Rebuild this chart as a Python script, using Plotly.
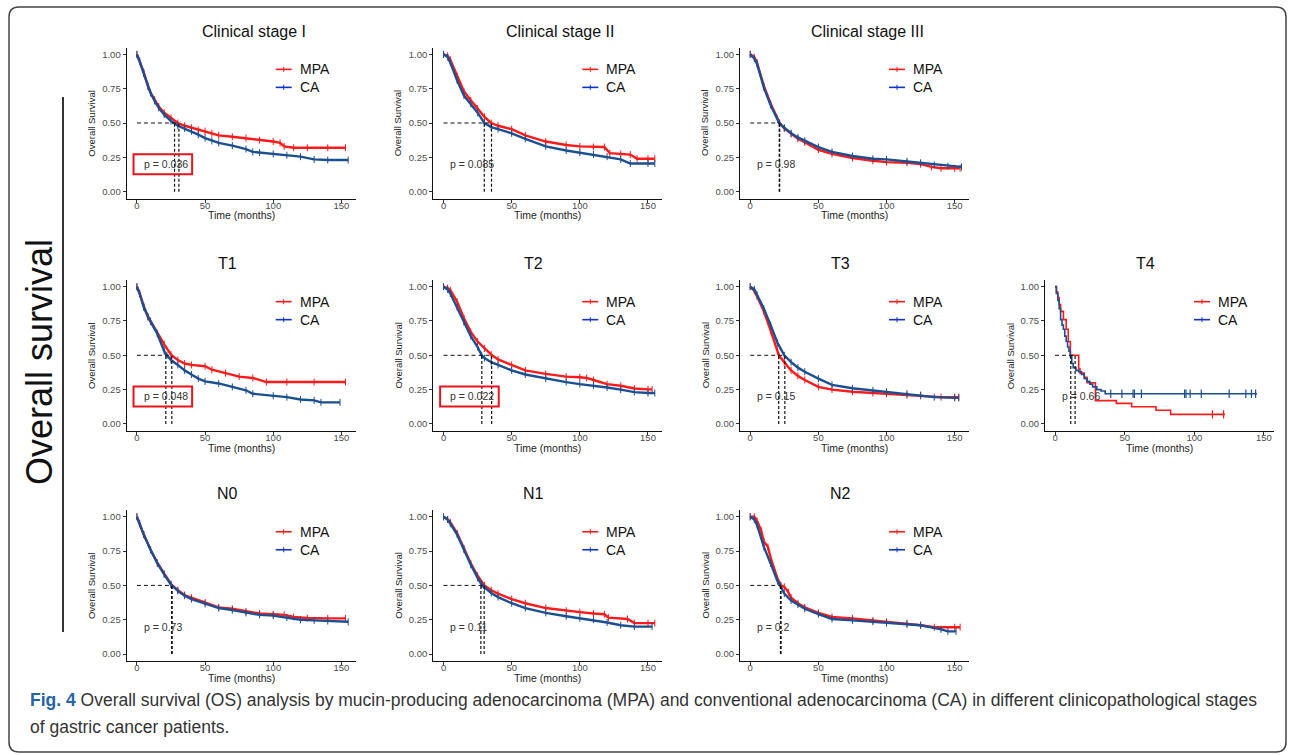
import plotly.graph_objects as go

W, H = 1290, 755

# ---------------- data ----------------
titles = ["Clinical stage I", "Clinical stage II", "Clinical stage III",
          "T1", "T2", "T3", "T4", "N0", "N1", "N2"]
p_values = ["0.036", "0.085", "0.98", "0.048", "0.022", "0.15", "0.66", "0.73", "0.11", "0.2"]
p_highlight = [True, False, False, True, True, False, False, False, False, False]
median_mpa = [30.8, 35.2, 21.6, 25.6, 35.3, 20.9, 14.4, 25.8, 29.8, 22.6]
median_ca = [27.6, 29.9, 21.3, 21.2, 28.1, 25.4, 11.3, 25.5, 27.4, 22.2]
x_ticks = [0, 50, 100, 150]
y_ticks = [0, 0.25, 0.5, 0.75, 1.0]
y_tick_labels = ["0.00", "0.25", "0.50", "0.75", "1.00"]
series_names = ["MPA", "CA"]

cs1_mpa_t = [0, 2, 5, 8, 10, 13, 16, 20, 25, 30, 35, 40, 45, 50, 55, 60, 70, 80, 90, 100, 105, 108, 115, 125, 140, 153]
cs1_mpa_s = [1.0, 0.95, 0.87, 0.77, 0.72, 0.67, 0.62, 0.575, 0.535, 0.50, 0.48, 0.465, 0.45, 0.44, 0.425, 0.41, 0.40, 0.39, 0.375, 0.365, 0.355, 0.33, 0.32, 0.32, 0.32, 0.32]
cs1_ca_t = [0, 2, 5, 8, 10, 13, 16, 20, 25, 30, 35, 40, 45, 50, 55, 60, 70, 80, 85, 90, 100, 110, 120, 130, 140, 155]
cs1_ca_s = [1.0, 0.95, 0.86, 0.77, 0.72, 0.66, 0.61, 0.56, 0.515, 0.48, 0.46, 0.44, 0.415, 0.39, 0.37, 0.355, 0.335, 0.31, 0.29, 0.285, 0.275, 0.265, 0.255, 0.235, 0.23, 0.23]

cs2_mpa_t = [0, 3, 5, 10, 15, 20, 25, 30, 35, 40, 50, 60, 75, 90, 100, 110, 118, 122, 130, 137, 142, 150, 155]
cs2_mpa_s = [1.0, 0.99, 0.96, 0.84, 0.73, 0.665, 0.605, 0.545, 0.50, 0.48, 0.455, 0.41, 0.365, 0.34, 0.33, 0.325, 0.325, 0.28, 0.275, 0.27, 0.24, 0.24, 0.24]
cs2_ca_t = [0, 3, 5, 10, 15, 20, 25, 30, 35, 40, 50, 60, 75, 90, 100, 110, 120, 130, 137, 150, 155]
cs2_ca_s = [1.0, 0.98, 0.94, 0.81, 0.70, 0.64, 0.575, 0.50, 0.47, 0.455, 0.425, 0.385, 0.33, 0.30, 0.285, 0.27, 0.255, 0.235, 0.205, 0.205, 0.205]

cs3_mpa_t = [0, 3, 5, 10, 15, 20, 21.6, 25, 30, 35, 40, 50, 60, 75, 90, 100, 115, 125, 133, 140, 150, 154]
cs3_mpa_s = [1.0, 0.98, 0.94, 0.77, 0.64, 0.53, 0.50, 0.46, 0.42, 0.385, 0.36, 0.305, 0.275, 0.245, 0.225, 0.215, 0.21, 0.20, 0.18, 0.17, 0.17, 0.17]
cs3_ca_t = [0, 3, 5, 10, 15, 20, 21.3, 25, 30, 35, 40, 50, 60, 75, 90, 100, 115, 125, 135, 145, 155]
cs3_ca_s = [1.0, 0.97, 0.93, 0.76, 0.63, 0.525, 0.50, 0.465, 0.425, 0.395, 0.37, 0.325, 0.29, 0.26, 0.24, 0.235, 0.22, 0.21, 0.195, 0.185, 0.18]

t1_mpa_t = [0, 2, 5, 8, 10, 15, 20, 25, 30, 35, 40, 50, 55, 65, 75, 85, 95, 110, 130, 153]
t1_mpa_s = [1.0, 0.95, 0.86, 0.78, 0.75, 0.66, 0.58, 0.505, 0.465, 0.44, 0.43, 0.42, 0.395, 0.37, 0.345, 0.335, 0.305, 0.305, 0.305, 0.305]
t1_ca_t = [0, 2, 5, 8, 10, 15, 20, 22, 25, 30, 35, 40, 45, 50, 60, 70, 80, 85, 100, 110, 120, 130, 135, 149]
t1_ca_s = [1.0, 0.95, 0.85, 0.78, 0.745, 0.655, 0.53, 0.50, 0.465, 0.43, 0.39, 0.36, 0.33, 0.31, 0.295, 0.27, 0.245, 0.22, 0.205, 0.195, 0.178, 0.172, 0.157, 0.157]

t2_mpa_t = [0, 3, 5, 10, 15, 20, 25, 30, 35, 40, 50, 60, 75, 90, 100, 105, 110, 120, 130, 140, 150, 153]
t2_mpa_s = [1.0, 0.99, 0.975, 0.89, 0.77, 0.67, 0.60, 0.55, 0.505, 0.47, 0.43, 0.39, 0.365, 0.345, 0.34, 0.335, 0.32, 0.29, 0.278, 0.258, 0.252, 0.252]
t2_ca_t = [0, 3, 5, 10, 15, 20, 25, 28, 30, 35, 40, 50, 60, 75, 90, 100, 110, 120, 130, 140, 150, 155]
t2_ca_s = [1.0, 0.98, 0.95, 0.85, 0.74, 0.64, 0.56, 0.50, 0.48, 0.45, 0.43, 0.39, 0.36, 0.33, 0.305, 0.29, 0.28, 0.265, 0.25, 0.232, 0.225, 0.225]

t3_mpa_t = [0, 3, 5, 10, 15, 20, 21, 25, 30, 35, 40, 50, 60, 75, 90, 100, 115, 125, 140, 150, 153]
t3_mpa_s = [1.0, 0.97, 0.93, 0.82, 0.68, 0.53, 0.50, 0.45, 0.39, 0.35, 0.32, 0.27, 0.25, 0.235, 0.225, 0.22, 0.21, 0.205, 0.195, 0.195, 0.195]
t3_ca_t = [0, 3, 5, 10, 15, 20, 25, 30, 35, 40, 50, 60, 75, 90, 100, 115, 125, 135, 150, 153]
t3_ca_s = [1.0, 0.98, 0.94, 0.84, 0.72, 0.59, 0.50, 0.45, 0.41, 0.38, 0.33, 0.285, 0.26, 0.245, 0.235, 0.22, 0.21, 0.195, 0.19, 0.19]

t4_mpa_t = [0, 1, 2, 3, 4, 6, 8, 9.5, 11, 17, 18, 21, 23, 29, 44, 55, 72.5, 83, 122]
t4_mpa_s = [1.0, 0.96, 0.92, 0.87, 0.82, 0.76, 0.69, 0.60, 0.50, 0.40, 0.37, 0.34, 0.30, 0.17, 0.15, 0.125, 0.10, 0.07, 0.07]
t4_ca_t = [0, 1, 2, 3, 4, 5, 6, 7, 8, 9, 10, 11, 12, 13, 15, 17, 19, 21, 23, 25, 27, 30, 33, 36, 145]
t4_ca_s = [1.0, 0.95, 0.90, 0.84, 0.76, 0.72, 0.69, 0.64, 0.60, 0.56, 0.53, 0.49, 0.44, 0.41, 0.39, 0.38, 0.36, 0.33, 0.31, 0.29, 0.27, 0.25, 0.24, 0.22, 0.22]
t4_mpa_censor_t = [113, 121]
t4_mpa_censor_s = [0.07, 0.07]
t4_ca_censor_t = [40, 48, 56, 57, 62, 93, 94, 97, 105, 125, 137, 141, 144]
t4_ca_censor_s = [0.22, 0.22, 0.22, 0.22, 0.22, 0.22, 0.22, 0.22, 0.22, 0.22, 0.22, 0.22, 0.22]

n0_mpa_t = [0, 2, 5, 10, 15, 20, 25, 30, 35, 40, 50, 60, 70, 80, 90, 100, 108, 115, 125, 140, 153]
n0_mpa_s = [1.0, 0.95, 0.87, 0.76, 0.665, 0.585, 0.51, 0.465, 0.43, 0.41, 0.375, 0.34, 0.33, 0.31, 0.295, 0.29, 0.285, 0.27, 0.262, 0.26, 0.26]
n0_ca_t = [0, 2, 5, 10, 15, 20, 25, 30, 35, 40, 50, 60, 70, 80, 90, 100, 110, 120, 130, 140, 155]
n0_ca_s = [1.0, 0.95, 0.87, 0.76, 0.66, 0.58, 0.505, 0.46, 0.425, 0.40, 0.365, 0.335, 0.32, 0.30, 0.285, 0.28, 0.265, 0.25, 0.245, 0.24, 0.235]

n1_mpa_t = [0, 3, 5, 10, 15, 20, 25, 30, 35, 40, 50, 60, 75, 90, 100, 110, 118, 121, 135, 140, 150, 155]
n1_mpa_s = [1.0, 0.98, 0.96, 0.88, 0.77, 0.66, 0.57, 0.50, 0.465, 0.44, 0.40, 0.37, 0.335, 0.315, 0.305, 0.295, 0.29, 0.265, 0.255, 0.225, 0.225, 0.225]
n1_ca_t = [0, 3, 5, 10, 15, 20, 25, 28, 30, 35, 40, 50, 60, 75, 90, 100, 110, 120, 130, 140, 153]
n1_ca_s = [1.0, 0.98, 0.95, 0.87, 0.76, 0.65, 0.555, 0.505, 0.485, 0.445, 0.415, 0.37, 0.335, 0.30, 0.275, 0.26, 0.25, 0.23, 0.21, 0.20, 0.20]

n2_mpa_t = [0, 3, 5, 8, 10, 13, 15, 20, 22.5, 25, 28, 30, 35, 40, 50, 60, 75, 90, 100, 115, 125, 135, 150, 154]
n2_mpa_s = [1.0, 1.0, 0.97, 0.90, 0.82, 0.78, 0.70, 0.55, 0.50, 0.49, 0.45, 0.41, 0.37, 0.34, 0.30, 0.27, 0.26, 0.245, 0.235, 0.225, 0.21, 0.195, 0.195, 0.195]
n2_ca_t = [0, 3, 5, 10, 15, 20, 22, 25, 30, 35, 40, 50, 60, 75, 90, 100, 115, 125, 140, 145, 151]
n2_ca_s = [1.0, 0.98, 0.94, 0.78, 0.66, 0.53, 0.50, 0.44, 0.39, 0.36, 0.33, 0.29, 0.255, 0.245, 0.235, 0.225, 0.215, 0.21, 0.18, 0.165, 0.165]

mpa_curves = [(cs1_mpa_t, cs1_mpa_s), (cs2_mpa_t, cs2_mpa_s), (cs3_mpa_t, cs3_mpa_s),
              (t1_mpa_t, t1_mpa_s), (t2_mpa_t, t2_mpa_s), (t3_mpa_t, t3_mpa_s), (t4_mpa_t, t4_mpa_s),
              (n0_mpa_t, n0_mpa_s), (n1_mpa_t, n1_mpa_s), (n2_mpa_t, n2_mpa_s)]
ca_curves = [(cs1_ca_t, cs1_ca_s), (cs2_ca_t, cs2_ca_s), (cs3_ca_t, cs3_ca_s),
             (t1_ca_t, t1_ca_s), (t2_ca_t, t2_ca_s), (t3_ca_t, t3_ca_s), (t4_ca_t, t4_ca_s),
             (n0_ca_t, n0_ca_s), (n1_ca_t, n1_ca_s), (n2_ca_t, n2_ca_s)]

# ---------------- layout geometry (pixels) ----------------
grid_pos = [(0, 0), (0, 1), (0, 2), (1, 0), (1, 1), (1, 2), (1, 3), (2, 0), (2, 1), (2, 2)]
col_left = [126.7, 433.3, 740.0, 1045.0]
row_top = [47.5, 279.8, 509.9]
panel_w = 229.0
panel_h = 151.0
RED = "#ff1a1a"
BLUE = "#1c4f92"
BLUE_LEG = "#1133cc"
FONT = "Liberation Sans, Arial, sans-serif"


def xp(px):
    return px / W


def yp(py):
    return 1 - py / H


fig = go.Figure()
shapes = []
annotations = []
layout_axes = {}

for i, title in enumerate(titles):
    r, c = grid_pos[i]
    x0 = col_left[c]
    y0 = row_top[r]
    suffix = "" if i == 0 else str(i + 1)
    xa, ya = "x" + suffix, "y" + suffix
    is_t4 = (title == "T4")
    xrange = [-7.2, 157.2] if is_t4 else [-7.5, 160.5]

    common = dict(showgrid=False, zeroline=False, showline=True, linecolor="#111",
                  linewidth=1.2, ticks="outside", ticklen=3, tickwidth=1, tickcolor="#333",
                  tickfont=dict(family=FONT, size=9.5, color="#4d4d4d"))
    layout_axes["xaxis" + suffix] = dict(domain=[xp(x0), xp(x0 + panel_w)], anchor=ya,
                                         range=xrange, tickvals=x_ticks,
                                         ticklabelstandoff=-5, **common)
    layout_axes["yaxis" + suffix] = dict(domain=[yp(y0 + panel_h), yp(y0)], anchor=xa,
                                         range=[-0.05, 1.05], tickvals=y_ticks,
                                         ticktext=y_tick_labels, **common)

    shape_kind = "hv" if is_t4 else "linear"
    for (t, s), name, col in ((mpa_curves[i], "MPA", RED), (ca_curves[i], "CA", BLUE)):
        fig.add_trace(go.Scatter(
            x=t, y=s, xaxis=xa, yaxis=ya, name=name, showlegend=False,
            mode="lines" if is_t4 else "lines+markers",
            line=dict(color=col, width=1.6 if is_t4 else 2.4, shape=shape_kind),
            marker=dict(symbol="line-ns-open", size=5, color=col, line=dict(color=col, width=1)),
            hoverinfo="skip"))
    if is_t4:
        for ct, cs, col in ((t4_mpa_censor_t, t4_mpa_censor_s, RED),
                            (t4_ca_censor_t, t4_ca_censor_s, BLUE)):
            fig.add_trace(go.Scatter(
                x=ct, y=cs, xaxis=xa, yaxis=ya, mode="markers", showlegend=False,
                marker=dict(symbol="line-ns-open", size=6, color=col,
                            line=dict(color=col, width=1.2)),
                hoverinfo="skip"))

    # median lines
    med = [median_mpa[i], median_ca[i]]
    shapes.append(dict(type="line", xref=xa, yref=ya, x0=0, x1=max(med), y0=0.5, y1=0.5,
                       line=dict(color="#111", width=1, dash="4px,3px")))
    for m in med:
        shapes.append(dict(type="line", xref=xa, yref=ya, x0=m, x1=m, y0=0, y1=0.5,
                           line=dict(color="#111", width=1.2, dash="3px,2px")))

    # p value
    annotations.append(dict(xref=xa, yref=ya, x=3.5, y=0.2, xanchor="left", yanchor="middle",
                            text="p = " + p_values[i], showarrow=False,
                            font=dict(family=FONT, size=10.5, color="#333")))
    if p_highlight[i]:
        shapes.append(dict(type="rect", xref=xa, yref=ya, x0=-2.5, x1=40.5, y0=0.127, y1=0.272,
                           line=dict(color="#e8141c", width=2)))

    # title
    mid = x0 + panel_w / 2
    tx = mid + 13 if title.startswith("Clinical") else mid - 14
    annotations.append(dict(xref="paper", yref="paper", x=xp(tx), y=yp(y0 - 16.5),
                            text=title, showarrow=False, xanchor="center", yanchor="middle",
                            font=dict(family=FONT, size=16, color="#111")))
    # axis titles
    annotations.append(dict(xref="paper", yref="paper", x=xp(x0 - 35), y=yp(y0 + panel_h / 2),
                            text="Overall Survival", textangle=-90, showarrow=False,
                            xanchor="center", yanchor="middle",
                            font=dict(family=FONT, size=9.5, color="#222")))
    annotations.append(dict(xref="paper", yref="paper", x=xp(mid), y=yp(y0 + panel_h + 17),
                            text="Time (months)", showarrow=False, xanchor="center",
                            yanchor="middle", font=dict(family=FONT, size=10.5, color="#222")))
    # legend
    y100 = y0 + 0.05 * panel_h / 1.1
    for k, (name, col) in enumerate(((series_names[0], RED), (series_names[1], BLUE_LEG))):
        ly = y100 + 15 + 18 * k
        shapes.append(dict(type="line", xref="paper", yref="paper", x0=xp(x0 + 149),
                           x1=xp(x0 + 165), y0=yp(ly), y1=yp(ly), line=dict(color=col, width=1.6)))
        shapes.append(dict(type="line", xref="paper", yref="paper", x0=xp(x0 + 157),
                           x1=xp(x0 + 157), y0=yp(ly - 2.5), y1=yp(ly + 2.5),
                           line=dict(color=col, width=1)))
        annotations.append(dict(xref="paper", yref="paper", x=xp(x0 + 171), y=yp(ly),
                                text=name, showarrow=False, xanchor="left", yanchor="middle",
                                font=dict(family=FONT, size=14, color="#111")))

# big side label and rule
annotations.append(dict(xref="paper", yref="paper", x=xp(39), y=yp(362), text="Overall survival",
                        textangle=-90, showarrow=False, xanchor="center", yanchor="middle",
                        font=dict(family=FONT, size=36, color="#111")))
shapes.append(dict(type="line", xref="paper", yref="paper", x0=xp(63), x1=xp(63),
                   y0=yp(97), y1=yp(632), line=dict(color="#333", width=2)))

# frame with rounded corners
bx0, by0, bx1, by1, rad = 9, 7, 1286, 752, 10
path = (f"M {xp(bx0 + rad)},{yp(by0)} L {xp(bx1 - rad)},{yp(by0)} "
        f"Q {xp(bx1)},{yp(by0)} {xp(bx1)},{yp(by0 + rad)} L {xp(bx1)},{yp(by1 - rad)} "
        f"Q {xp(bx1)},{yp(by1)} {xp(bx1 - rad)},{yp(by1)} L {xp(bx0 + rad)},{yp(by1)} "
        f"Q {xp(bx0)},{yp(by1)} {xp(bx0)},{yp(by1 - rad)} L {xp(bx0)},{yp(by0 + rad)} "
        f"Q {xp(bx0)},{yp(by0)} {xp(bx0 + rad)},{yp(by0)} Z")
shapes.append(dict(type="path", xref="paper", yref="paper", path=path,
                   line=dict(color="#444", width=1.5)))

# caption
caption1 = ("<b><span style='color:#2463a8'>Fig. 4</span></b> Overall survival (OS) analysis by "
            "mucin-producing adenocarcinoma (MPA) and conventional adenocarcinoma (CA) in "
            "different clinicopathological stages")
caption2 = "of gastric cancer patients."
annotations.append(dict(xref="paper", yref="paper", x=xp(28), y=yp(700), text=caption1,
                        showarrow=False, xanchor="left", yanchor="middle",
                        font=dict(family=FONT, size=17.5, color="#333")))
annotations.append(dict(xref="paper", yref="paper", x=xp(28), y=yp(727), text=caption2,
                        showarrow=False, xanchor="left", yanchor="middle",
                        font=dict(family=FONT, size=17.5, color="#333")))

fig.update_layout(width=W, height=H, margin=dict(l=0, r=0, t=0, b=0),
                  paper_bgcolor="white", plot_bgcolor="white", showlegend=False,
                  shapes=shapes, annotations=annotations, **layout_axes)

fig.write_html("out.html", config={"displayModeBar": False},
               post_script="document.body.style.margin='0';document.body.style.overflow='hidden';")
